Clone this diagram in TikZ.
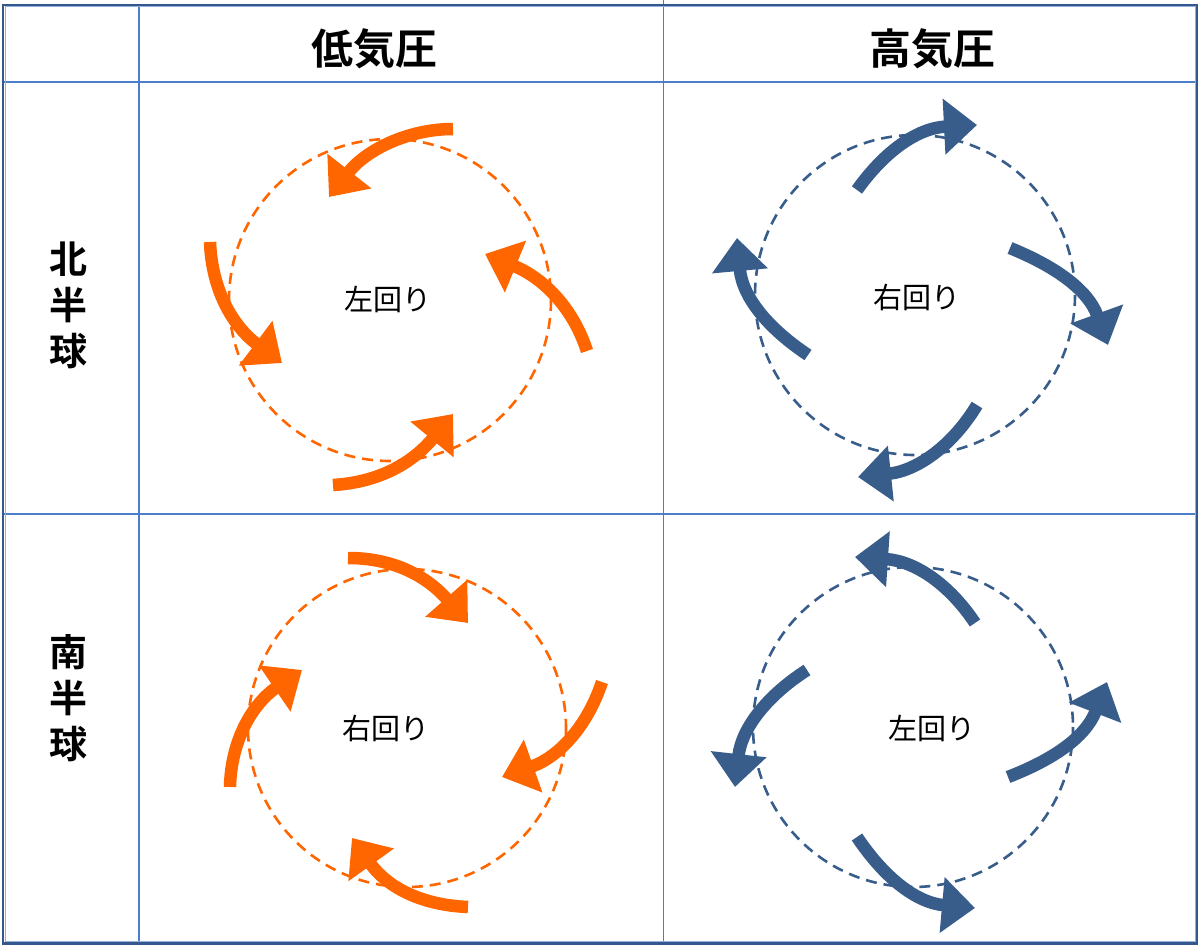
\documentclass[tikz,border=0pt]{standalone}
\usepackage{fontspec}
\newfontfamily\jp{Noto Sans CJK JP}[BoldFont={Noto Sans CJK JP Bold}]
\usetikzlibrary{arrows.meta}
\definecolor{lowc}{RGB}{255,102,0}
\definecolor{highc}{RGB}{56,93,138}
\definecolor{gridc}{RGB}{74,126,200}
\definecolor{framec}{RGB}{52,88,140}
\begin{document}
\begin{tikzpicture}[x=1pt,y=-1pt,
  wind/.style={line width=12.5pt,-{Triangle[length=33pt,width=54pt]}},
  lowwind/.style={wind,color=lowc},
  highwind/.style={wind,color=highc},
  path/.style={line width=2.6pt,dash pattern=on 11pt off 7pt},
  lowpath/.style={path,draw=lowc},
  highpath/.style={path,draw=highc},
  head/.style={font=\jp\bfseries\fontsize{42}{42}\selectfont,inner sep=0pt},
  side/.style={font=\jp\bfseries\fontsize{38}{46}\selectfont,inner sep=0pt,align=center},
  turn/.style={font=\jp\fontsize{29}{29}\selectfont,inner sep=0pt}]
\useasboundingbox (0,0) rectangle (1200,947);
\fill[white] (0,0) rectangle (1200,947);
% grid
\draw[gridc,line width=1.6pt] (138.7,5) -- (138.7,943);
\draw[gridc,line width=1.6pt] (663.3,0) -- (663.3,943);
\draw[gridc,line width=1.6pt] (3,82.3) -- (1197,82.3);
\draw[gridc,line width=1.6pt] (3,514) -- (1197,514);
\draw[gridc!60,line width=1pt] (5,7) rectangle (1195,941.5);
\draw[framec,line width=2.6pt] (3,5) rectangle (1197,943.5);
% headers
\node[head] (low) at (374,49) {低気圧};
\node[head] (high) at (932,49) {高気圧};
\node[side] (north) at (68,305) {北\\半\\球};
\node[side] (south) at (68,698) {南\\半\\球};
% circles
\draw[lowpath] (390,300) circle[radius=161];
\draw[highpath] (915,295) circle[radius=160];
\draw[lowpath] (407,728) circle[radius=159];
\draw[highpath] (913,727) circle[radius=160];
% labels
\node[turn] (nl) at (388,299) {左回り};
\node[turn] (nh) at (917,297) {右回り};
\node[turn] (sl) at (386,728) {右回り};
\node[turn] (sh) at (932,728) {左回り};
% northern low
\draw[lowwind] (453,129) .. controls (408,129) and (366,150) .. (329,197);
\draw[lowwind] (210,242) .. controls (212,292) and (234,327) .. (282,363);
\draw[lowwind] (587,351) .. controls (572,305) and (541,277) .. (485,254);
\draw[lowwind] (333,485) .. controls (383,482) and (415,460) .. (453,414);
% northern high
\draw[highwind] (857,190) .. controls (884,152) and (917,128) .. (977,125);
\draw[highwind] (1010,248) .. controls (1053,265.5) and (1087.6,288.6) .. (1108,345);
\draw[highwind] (977,405) .. controls (953,445) and (917.6,470.7) .. (858,477);
\draw[highwind] (808,355) .. controls (769,329) and (742.4,297.8) .. (737,238);
% southern low
\draw[lowwind] (348,558) .. controls (396,558) and (428.4,578) .. (468,623);
\draw[lowwind] (602,682) .. controls (587,727) and (558.4,757.2) .. (502,777);
\draw[lowwind] (468,907) .. controls (420,905) and (386.8,886.6) .. (352,838);
\draw[lowwind] (230,787) .. controls (231,740) and (252.8,703.6) .. (302,670);
% southern high
\draw[highwind] (975,623) .. controls (949,584) and (914.9,561) .. (855,557);
\draw[highwind] (807,670) .. controls (768,695) and (741.6,727.6) .. (735,787);
\draw[highwind] (857,837) .. controls (883,876) and (915.2,902.6) .. (975,908);
\draw[highwind] (1008,777) .. controls (1052,760) and (1085.4,737.8) .. (1107,682);
\end{tikzpicture}
\end{document}
